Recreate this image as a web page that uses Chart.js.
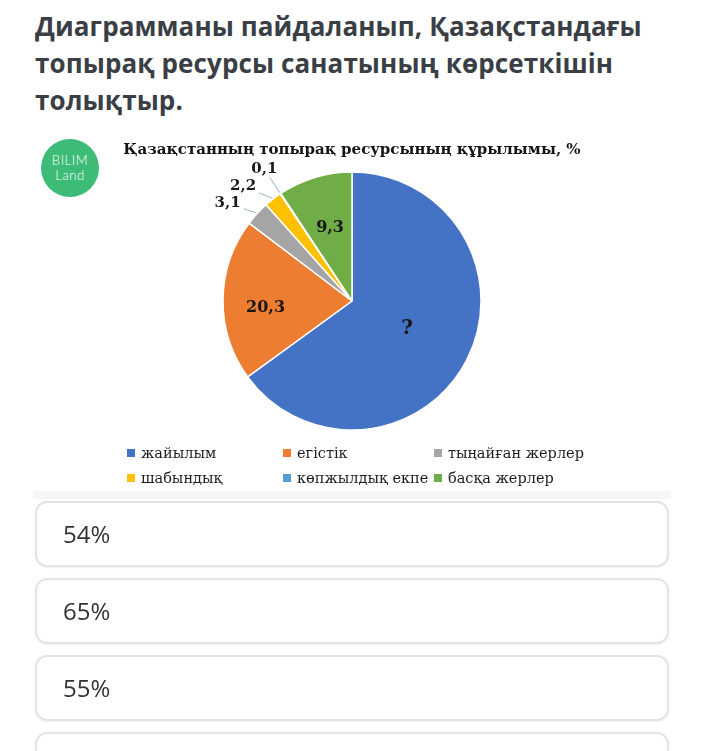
<!DOCTYPE html>
<html>
<head>
<meta charset="utf-8">
<script src="https://cdn.jsdelivr.net/npm/chart.js@4.4.0/dist/chart.umd.min.js"></script>
<style>
  html, body { margin: 0; padding: 0; background: #fff; }
  body { width: 704px; height: 751px; position: relative; overflow: hidden; font-family: "Open Sans", sans-serif; }
  h1 { position: absolute; left: 35px; top: 8px; margin: 0; width: 660px; font-size: 26px; line-height: 37px; font-weight: 700; color: #3a3e45; letter-spacing: 0.1px; }
  .logo { position: absolute; left: 41px; top: 139px; width: 58px; height: 58px; border-radius: 50%; background: #3dbc78;
          color: #fff; font-family: Lato, sans-serif; font-weight: 300; font-size: 13px; line-height: 15px; text-align: center; letter-spacing: 0.6px; }
  .logo div:first-child { margin-top: 14px; }
  #chartBox { position: absolute; left: 35px; top: 130px; width: 634px; height: 360px; }
  #legend { position: absolute; left: 127px; top: 440px; display: grid; grid-template-columns: 156px 151px 170px; grid-auto-rows: 25px;
            font-family: "DejaVu Serif", serif; font-size: 14.5px; color: #1e1e1e; }
  #legend span.item { display: flex; align-items: center; white-space: nowrap; }
  #legend i { display: inline-block; width: 8px; height: 8px; margin-right: 6px; }
  .strip { position: absolute; left: 33px; top: 491px; width: 638px; height: 8px; background: #f6f6f6; }
  .answer { position: absolute; left: 35px; height: 62px; border: 2px solid #e4e4e4; border-radius: 12px; background: #fff;
            box-shadow: 0 1px 2px rgba(0,0,0,0.06); font-size: 24px; color: #333; line-height: 62px; padding-left: 26px; width: 604px; }
</style>
</head>
<body>
<h1>Диаграмманы пайдаланып, Қазақстандағы топырақ ресурсы санатының көрсеткішін толықтыр.</h1>
<div class="logo"><div>BILIM</div><div>Land</div></div>
<div id="chartBox"><canvas id="soilChart"></canvas></div>
<div id="legend"></div>
<div class="strip"></div>
<div class="answer" style="top:501px">54%</div>
<div class="answer" style="top:578px">65%</div>
<div class="answer" style="top:655px">55%</div>
<div class="answer" style="top:732px"></div>

<script>
// categories and values (pasture share is the "?" = 65)
const categories = ['жайылым', 'егістік', 'тыңайған жерлер', 'шабындық', 'көпжылдық екпе', 'басқа жерлер'];
const shares = [65, 20.3, 3.1, 2.2, 0.1, 9.3];
const sliceText = ['?', '20,3', '3,1', '2,2', '0,1', '9,3'];
const sliceColors = ['#4472c4', '#ed7d31', '#a5a5a5', '#ffc000', '#5b9bd5', '#70ad47'];
const chartTitle = 'Қазақстанның топырақ ресурсының құрылымы, %';

// draws value labels: big slices inside, small ones outside with leader lines
const sliceLabels = {
  id: 'sliceLabels',
  afterDatasetsDraw(chart, args, opts) {
    const ctx = chart.ctx;
    const meta = chart.getDatasetMeta(0);
    const outside = [];
    ctx.save();
    ctx.textAlign = 'center';
    ctx.textBaseline = 'middle';
    meta.data.forEach((arc, i) => {
      const p = arc.getProps(['x', 'y', 'startAngle', 'endAngle', 'outerRadius'], true);
      const mid = (p.startAngle + p.endAngle) / 2;
      const text = opts.texts[i];
      if (chart.data.datasets[0].data[i] >= opts.minInside) {
        const f = opts.insideRadius[i];
        ctx.font = (i === 0 ? 'bold 20px ' : 'bold 16px ') + '"DejaVu Serif"';
        ctx.fillStyle = '#161616';
        ctx.fillText(text, p.x + Math.cos(mid) * p.outerRadius * f, p.y + Math.sin(mid) * p.outerRadius * f + opts.insideDy[i]);
      } else {
        outside.push({ text, mid, cx: p.x, cy: p.y, r: p.outerRadius });
      }
    });

    // place outside labels on a ring and push them apart vertically
    const ring = opts.outsideRadius;
    outside.forEach(o => {
      o.lx = o.cx + Math.cos(o.mid) * o.r * ring;
      o.ly = o.cy + Math.sin(o.mid) * o.r * ring;
    });
    for (let k = outside.length - 2; k >= 0; k--) {
      const a = outside[k], b = outside[k + 1];
      if (a.ly < b.ly + opts.gap) {
        a.ly = b.ly + opts.gap;
        const dy = a.ly - a.cy;
        const d = a.r * ring;
        a.lx = a.cx + Math.sign(Math.cos(a.mid)) * Math.sqrt(Math.max(d * d - dy * dy, 0));
      }
    }
    ctx.font = 'bold 15px "DejaVu Serif"';
    outside.forEach(o => {
      const ex = o.cx + Math.cos(o.mid) * (o.r + 1);
      const ey = o.cy + Math.sin(o.mid) * (o.r + 1);
      const w = ctx.measureText(o.text).width / 2 + 3;
      const h = 8;
      const dx = ex - o.lx, dy = ey - o.ly;
      const t = Math.min(w / Math.abs(dx || 1e-6), h / Math.abs(dy || 1e-6));
      ctx.strokeStyle = '#9fb0c0';
      ctx.lineWidth = 1;
      ctx.beginPath();
      ctx.moveTo(o.lx + dx * t, o.ly + dy * t);
      ctx.lineTo(ex, ey);
      ctx.stroke();
      ctx.fillStyle = '#1c1c1c';
      ctx.fillText(o.text, o.lx, o.ly);
    });
    ctx.restore();
  }
};

const soilChart = new Chart(document.getElementById('soilChart'), {
  type: 'pie',
  data: {
    labels: categories,
    datasets: [{
      data: shares,
      backgroundColor: sliceColors,
      borderColor: '#ffffff',
      borderWidth: 1.5,
      radius: 129
    }]
  },
  options: {
    responsive: true,
    maintainAspectRatio: false,
    animation: false,
    layout: { padding: { top: 4, bottom: 59, left: 0, right: 0 } },
    plugins: {
      legend: { display: false },
      tooltip: { enabled: false },
      title: {
        display: true,
        text: chartTitle,
        color: '#151515',
        font: { family: '"DejaVu Serif"', size: 15, weight: 'bold', lineHeight: 1.2 },
        padding: { top: 7, bottom: 12 }
      },
      sliceLabels: {
        texts: sliceText,
        minInside: 5,
        insideRadius: [0.48, 0.67, 0.6, 0.6, 0.6, 0.59],
        insideDy: [0, 8, 0, 0, 0, 0],
        outsideRadius: 1.225,
        gap: 17
      }
    }
  },
  plugins: [sliceLabels]
});

// legend built from the chart's own data
const legendBox = document.getElementById('legend');
soilChart.data.labels.forEach((name, i) => {
  const item = document.createElement('span');
  item.className = 'item';
  item.innerHTML = '<i style="background:' + sliceColors[i] + '"></i>' + name;
  legendBox.appendChild(item);
});
</script>
</body>
</html>
